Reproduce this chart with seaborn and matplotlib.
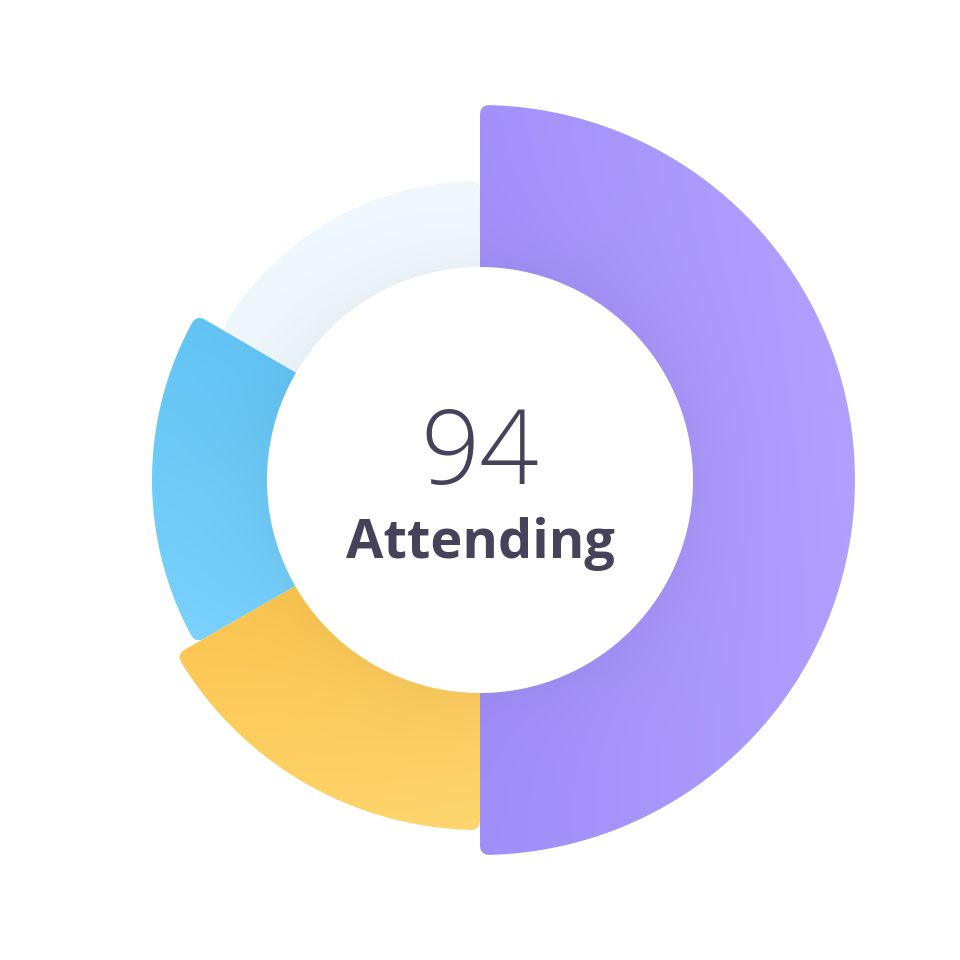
import numpy as np
import matplotlib
matplotlib.use("Agg")
import matplotlib.pyplot as plt
from matplotlib.path import Path
from matplotlib.patches import PathPatch
from matplotlib.colors import to_rgb
import seaborn as sns

# ---- data ----
segments = ["Attending", "Maybe", "Declined", "No reply"]
shares = [50.0, 16.7, 16.7, 16.6]
outer_radius = [375, 350, 328, 299]
colors_a = ["#a08ef9", "#fcc650", "#62c4f4", "#eef7fc"]
colors_b = ["#b1a0ff", "#fed56e", "#7ad2fd", "#f1f9fe"]
center_value = "94"
center_label = "Attending"

INNER = 213
CORNER = 10

sns.set_theme(style="white")
fig = plt.figure(figsize=(9.6, 9.6), dpi=100)
ax = fig.add_axes([0, 0, 1, 1])
ax.set_xlim(-480, 480)
ax.set_ylim(-480, 480)
ax.set_aspect("equal")
ax.axis("off")


def seg_path(a0, a1, rin, rout, rc):
    a0r, a1r = np.radians(a0), np.radians(a1)
    d = rc / rout
    pts = []

    def P(r, a):
        return (r * np.cos(a), r * np.sin(a))

    pts.append(P(rin, a0r))
    pts.append(P(rout - rc, a0r))
    p0 = np.array(P(rout - rc, a0r)); c = np.array(P(rout, a0r)); p2 = np.array(P(rout, a0r - d))
    for t in np.linspace(0, 1, 12)[1:]:
        pts.append(tuple((1 - t) ** 2 * p0 + 2 * (1 - t) * t * c + t ** 2 * p2))
    for a in np.linspace(a0r - d, a1r + d, 200)[1:]:
        pts.append(P(rout, a))
    p0 = np.array(P(rout, a1r + d)); c = np.array(P(rout, a1r)); p2 = np.array(P(rout - rc, a1r))
    for t in np.linspace(0, 1, 12)[1:]:
        pts.append(tuple((1 - t) ** 2 * p0 + 2 * (1 - t) * t * c + t ** 2 * p2))
    pts.append(P(rin, a1r))
    for a in np.linspace(a1r, a0r, 200)[1:]:
        pts.append(P(rin, a))
    pts.append(pts[0])
    codes = [Path.MOVETO] + [Path.LINETO] * (len(pts) - 2) + [Path.CLOSEPOLY]
    return Path(pts, codes)


N = 960
xs = np.linspace(-480, 480, N)
X, Y = np.meshgrid(xs, xs)
R = np.hypot(X, Y)
directions = [(1.0, 0.1), (0.2, -1.0), (-0.35, -1.0), (0.2, 1.0)]
shadow = [0.04, 0.035, 0.035, 0.03]

total = sum(shares)
starts = []
a = 90.0
for s in shares:
    starts.append((a, a - 360.0 * s / total))
    a -= 360.0 * s / total

for i in reversed(range(len(shares))):
    a0, a1 = starts[i]
    path = seg_path(a0, a1, INNER, outer_radius[i], CORNER)
    dx, dy = directions[i]
    proj = X * dx + Y * dy
    mask = path.contains_points(np.column_stack([X.ravel(), Y.ravel()])).reshape(X.shape)
    lo, hi = proj[mask].min(), proj[mask].max()
    t = np.clip((proj - lo) / (hi - lo), 0, 1)[..., None]
    ca, cb = np.array(to_rgb(colors_a[i])), np.array(to_rgb(colors_b[i]))
    img = (1 - t) * ca + t * cb
    f = 1 - shadow[i] * np.exp(-np.clip(R - INNER, 0, None) / 40.0)
    img = np.clip(img * f[..., None], 0, 1)
    patch = PathPatch(path, facecolor="none", edgecolor="none")
    ax.add_patch(patch)
    im = ax.imshow(img, extent=(-480, 480, -480, 480), origin="lower",
                   interpolation="bilinear", zorder=1 + (len(shares) - i))
    im.set_clip_path(patch)

ax.text(0, 23, center_value, ha="center", va="center", fontsize=75,
        fontfamily="Open Sans", fontweight="light", color="#45425a", zorder=10)
ax.text(0, -64, center_label, ha="center", va="center", fontsize=39,
        fontfamily="Open Sans", fontweight="bold", color="#45425a", zorder=10)

fig.savefig("out.png", dpi=100, facecolor="white")
